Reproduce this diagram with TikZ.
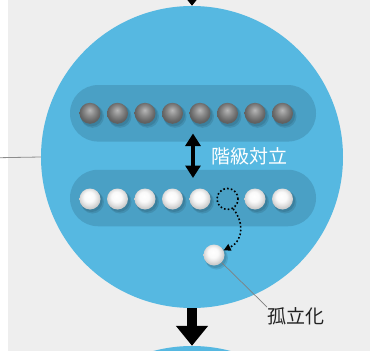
\documentclass[tikz,border=0pt]{standalone}
\usepackage{fontspec}
\newfontfamily\jp{Noto Sans CJK JP}
\usetikzlibrary{arrows.meta}
\definecolor{bgc}{HTML}{EEEEEE}
\definecolor{sky}{HTML}{56B8E1}
\definecolor{bandc}{HTML}{4AA0C5}
\definecolor{lblc}{HTML}{222222}
\pgfdeclareradialshading{wballsh}{\pgfpoint{-3bp}{7bp}}{color(0bp)=(white); color(12bp)=(white!98!black); color(20bp)=(white!88!black); color(25bp)=(white!80!black); color(50bp)=(white!80!black)}
\pgfdeclareradialshading{gballsh}{\pgfpoint{-1bp}{8bp}}{color(0bp)=(black!28); color(12bp)=(black!46); color(21bp)=(black!58); color(25bp)=(black!62); color(50bp)=(black!62)}
\tikzset{
  bigcirc/.style={circle, fill=sky, minimum size=302pt, inner sep=0pt},
  bandbox/.style={fill=bandc, rounded corners=28pt, minimum width=246pt, minimum height=56.5pt, inner sep=0pt},
  gballnode/.style={circle, minimum size=21pt, inner sep=0pt, shading=gballsh},
  wballnode/.style={circle, minimum size=21pt, inner sep=0pt, shading=wballsh},
  shadowa/.style={fill=black, opacity=0.10},
  bigarrow/.style={line width=10pt, -{Triangle[length=20pt,width=31pt]}},
  dblarrow/.style={line width=4.2pt, {Triangle[length=12.5pt,width=15pt]}-{Triangle[length=12.5pt,width=15pt]}},
  dotline/.style={line width=1.6pt, dash pattern=on 1.6pt off 2.2pt},
  jptext/.style={inner sep=0pt, font=\jp\fontsize{19pt}{19pt}\selectfont},
  leader/.style={draw=black!50, line width=0.7pt}
}
\begin{document}
\begin{tikzpicture}[x=1pt,y=-1pt]
\useasboundingbox (0,0) rectangle (370,351);
\fill[bgc] (8,0) rectangle (370,351);
% circles
\node[bigcirc] (main) at (192,157) {};
\node[bigcirc] (next) at (192,497) {};
% left line
\coordinate (lend) at (0,157.7);
\draw[black!45, line width=0.8pt] (lend) -- (main.west);
% arrows between stages
\coordinate (prev) at (192,-40);
\draw[bigarrow] (prev) -- (main.north);
\draw[bigarrow] (main.south) -- (next.north);
% bands
\node[bandbox] (band1) at (193,113.3) {};
\node[bandbox] (band2) at (193,198) {};
% shadows
\foreach \i in {0,...,7} {
  \pgfmathsetmacro{\x}{90+27.5*\i}
  \fill[shadowa] (\x+1.5,115.3) circle (11);
  \fill[shadowa] (\x+2.5,116.3) circle (11.5);
}
\foreach \i in {0,1,2,3,4,6,7} {
  \pgfmathsetmacro{\x}{90+27.5*\i}
  \fill[shadowa] (\x+1.5,201) circle (11);
  \fill[shadowa] (\x+2.5,202) circle (11.5);
}
\fill[shadowa] (215.5,257) circle (11);
\fill[shadowa] (216.5,258) circle (11.5);
% balls
\foreach \i in {0,...,7} {
  \pgfmathsetmacro{\x}{90+27.5*\i}
  \node[gballnode] (g\i) at (\x,113.3) {};
}
\foreach \i in {0,1,2,3,4,6,7} {
  \pgfmathsetmacro{\x}{90+27.5*\i}
  \node[wballnode] (w\i) at (\x,199) {};
}
\node[wballnode] (iso) at (214,255) {};
% conflict arrow
\coordinate (dtop) at (193,133.5);
\coordinate (dbot) at (193,178);
\draw[dblarrow] (dtop) -- (dbot);
\node[jptext, text=white, anchor=west] (conflict) at (211,156) {階級対立};
% dotted vacancy and path
\node[circle, minimum size=21pt, inner sep=0pt, draw=black, dotline] (vac) at (227.5,199) {};
\draw[dotline, -{Triangle[length=7pt,width=7pt]}] (vac.-60) .. controls (243,220) and (245,240) .. (iso);
% label
\node[jptext, text=lblc, anchor=west] (lbl) at (267,316) {孤立化};
\draw[leader] (iso) -- (lbl.north west);
\end{tikzpicture}
\end{document}
